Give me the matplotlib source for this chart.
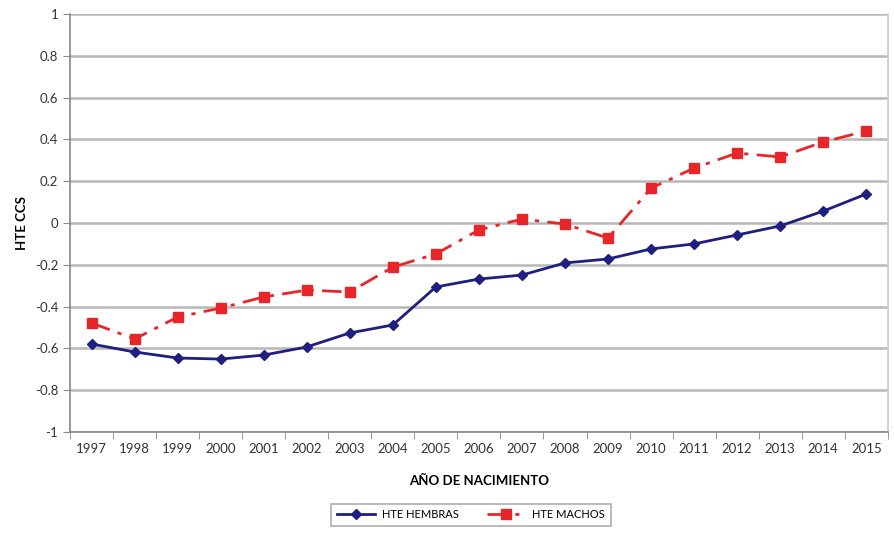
import matplotlib
matplotlib.use("Agg")
import matplotlib.pyplot as plt
import numpy as np

plt.rcParams['font.family'] = ['Lato', 'DejaVu Sans']

years = [str(y) for y in range(1997, 2016)]
hembras = [-0.579, -0.617, -0.646, -0.651, -0.632, -0.593, -0.526, -0.488, -0.306,
           -0.268, -0.249, -0.191, -0.172, -0.124, -0.100, -0.057, -0.014, 0.057, 0.139]
machos = [-0.478, -0.555, -0.450, -0.407, -0.354, -0.321, -0.330, -0.211, -0.148,
          -0.033, 0.019, -0.005, -0.072, 0.167, 0.263, 0.335, 0.316, 0.388, 0.440]
yticks = [1, 0.8, 0.6, 0.4, 0.2, 0, -0.2, -0.4, -0.6, -0.8, -1]
ytick_labels = ['1', '0.8', '0.6', '0.4', '0.2', '0', '-0.2', '-0.4', '-0.6', '-0.8', '-1']

fig = plt.figure(figsize=(8.95, 5.41), dpi=100)
ax = fig.add_axes([0.0782, 0.2015, 0.9138, 0.7725])

x = np.arange(len(years))
gc = '#B8B8B8'
ax.plot(x, hembras, color='#1F1F7F', lw=2, marker='D', ms=5, label='HTE HEMBRAS', zorder=3)
ax.plot(x, machos, color='#E8262A', lw=2, ls=(0, (7, 3, 1.5, 3)), marker='s', ms=7,
        label='HTE MACHOS', zorder=3)

ax.set_xlim(-0.5, len(years) - 0.5)
ax.set_ylim(-1, 1)
ax.set_yticks(yticks)
ax.set_yticklabels(ytick_labels)
ax.set_xticks(x)
ax.set_xticklabels(years)
ax.set_xticks(np.arange(-0.5, len(years), 1), minor=True)
ax.tick_params(axis='x', which='major', length=0, pad=8, labelsize=9.5, colors='#333333')
ax.tick_params(axis='x', which='minor', length=5, color='#888888')
ax.tick_params(axis='y', length=5, color='#888888', labelsize=9.5, labelcolor='#333333')

ax.grid(axis='y', color=gc, lw=1.8)
ax.set_axisbelow(True)
for s in ['left', 'bottom']:
    ax.spines[s].set_color('#888888')
    ax.spines[s].set_linewidth(1.2)
ax.spines['top'].set_visible(False)
ax.spines['right'].set_color('#CCCCCC')
ax.spines['right'].set_linewidth(1.2)

ax.set_ylabel('HTE CCS', fontsize=9.5, fontweight='bold', labelpad=5)
ax.set_xlabel('AÑO DE NACIMIENTO', fontsize=9.5, fontweight='bold', labelpad=14)

leg = fig.legend(loc='center', bbox_to_anchor=(0.526, 0.0485), ncol=2, fontsize=8,
                 frameon=True, fancybox=False, edgecolor='#999999', handlelength=3.5,
                 columnspacing=2.5, borderpad=0.5, handletextpad=0.6)
leg.get_frame().set_linewidth(1.2)

fig.savefig('out.png', dpi=100)
